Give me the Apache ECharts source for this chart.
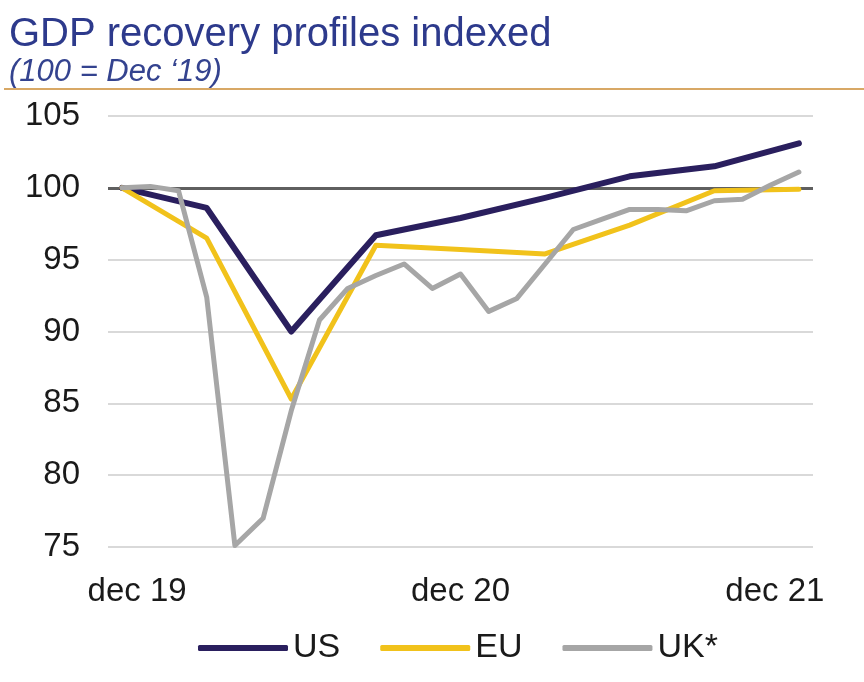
<!DOCTYPE html>
<html>
<head>
<meta charset="utf-8">
<title>GDP recovery profiles indexed</title>
<script src="https://cdn.jsdelivr.net/npm/echarts@6/dist/echarts.min.js"></script>
<style>
  html, body { margin: 0; padding: 0; background: #fff; }
  #gdpchart { width: 864px; height: 682px; }
</style>
</head>
<body>
<div id="gdpchart"></div>
<script>
// months dec 19 .. dec 21
var months = ['dec 19','jan 20','feb 20','mar 20','apr 20','may 20','jun 20','jul 20','aug 20','sep 20','oct 20','nov 20',
              'dec 20','jan 21','feb 21','mar 21','apr 21','may 21','jun 21','jul 21','aug 21','sep 21','oct 21','nov 21','dec 21'];
// US and EU are quarterly, gaps are joined up
var usData = [100, null, null, 98.6, null, null, 90.0, null, null, 96.7, null, null,
              97.9, null, null, 99.3, null, null, 100.8, null, null, 101.5, null, null, 103.1];
var euData = [100, null, null, 96.5, null, null, 85.3, null, null, 96.0, null, null,
              95.7, null, null, 95.4, null, null, 97.4, null, null, 99.8, null, null, 99.9];
// UK monthly
var ukData = [100, 100.1, 99.8, 92.4, 75.1, 77.0, 84.5, 90.8, 93.0, 93.9, 94.7, 93.0,
              94.0, 91.4, 92.3, 94.7, 97.1, 97.8, 98.5, 98.5, 98.4, 99.1, 99.2, 100.2, 101.1];
var seriesNames = ['US', 'EU', 'UK*'];
var baseLevel = 100;
var yTicks = [75, 105, 5]; // min, max, step

var font = '"Liberation Sans", Arial, sans-serif';
var myChart = echarts.init(document.getElementById('gdpchart'));
var option = {
  backgroundColor: '#ffffff',
  animation: false,
  title: {
    text: 'GDP recovery profiles indexed',
    subtext: '(100 = Dec \u201819)',
    left: 4,
    top: 10,
    itemGap: 2,
    textStyle: { fontFamily: font, fontSize: 40, fontWeight: 'normal', color: '#2d3a8c' },
    subtextStyle: { fontFamily: font, fontSize: 31, fontStyle: 'italic', color: '#34438f' }
  },
  graphic: [
    { type: 'rect', shape: { x: 4, y: 88, width: 860, height: 2 }, style: { fill: '#d8a865' }, silent: true }
  ],
  legend: {
    data: seriesNames,
    left: 193,
    top: 626,
    icon: 'roundRect',
    itemWidth: 90,
    itemHeight: 6,
    itemGap: 40,
    textStyle: { fontFamily: font, fontSize: 34, color: '#1a1a1a' }
  },
  grid: { left: 108, right: 51, top: 116, bottom: 135, outerBoundsMode: 'none' },
  xAxis: {
    type: 'category',
    data: months,
    boundaryGap: true,
    axisLine: { show: false },
    axisTick: { show: false },
    axisLabel: {
      interval: 11,
      margin: 28,
      fontFamily: font,
      fontSize: 33,
      color: '#1a1a1a',
      formatter: function (v, i) {
        if (i === 0) return '{l|' + v + '}';
        if (i === months.length - 1) return '{r|' + v + '}';
        return v;
      },
      rich: {
        l: { fontFamily: font, fontSize: 33, color: '#1a1a1a', padding: [0, 0, 0, 30] },
        r: { fontFamily: font, fontSize: 33, color: '#1a1a1a', padding: [0, 48, 0, 0] }
      }
    },
    splitLine: { show: false }
  },
  yAxis: {
    type: 'value',
    min: yTicks[0],
    max: yTicks[1],
    interval: yTicks[2],
    axisLine: { show: false },
    axisTick: { show: false },
    axisLabel: { margin: 28, fontFamily: font, fontSize: 33, color: '#1a1a1a' },
    splitLine: { lineStyle: { color: '#d9d9d9', width: 2 } }
  },
  series: [
    {
      name: seriesNames[0],
      type: 'line',
      data: usData,
      connectNulls: true,
      symbol: 'none',
      itemStyle: { color: '#2a1f5e' },
      lineStyle: { color: '#2a1f5e', width: 6, cap: 'round', join: 'round' },
      markLine: {
        silent: true,
        symbol: 'none',
        label: { show: false },
        lineStyle: { color: '#5f5f5f', width: 3, type: 'solid' },
        data: [{ yAxis: baseLevel }],
        z: 1
      },
      z: 3
    },
    {
      name: seriesNames[1],
      type: 'line',
      data: euData,
      connectNulls: true,
      symbol: 'none',
      itemStyle: { color: '#f1c21b' },
      lineStyle: { color: '#f1c21b', width: 5, cap: 'round', join: 'round' },
      z: 4
    },
    {
      name: seriesNames[2],
      type: 'line',
      data: ukData,
      symbol: 'none',
      itemStyle: { color: '#a6a6a6' },
      lineStyle: { color: '#a6a6a6', width: 5, cap: 'round', join: 'round' },
      z: 5
    }
  ]
};
myChart.setOption(option);
window.addEventListener('resize', function () {
  myChart.resize();
});
</script>
</body>
</html>
